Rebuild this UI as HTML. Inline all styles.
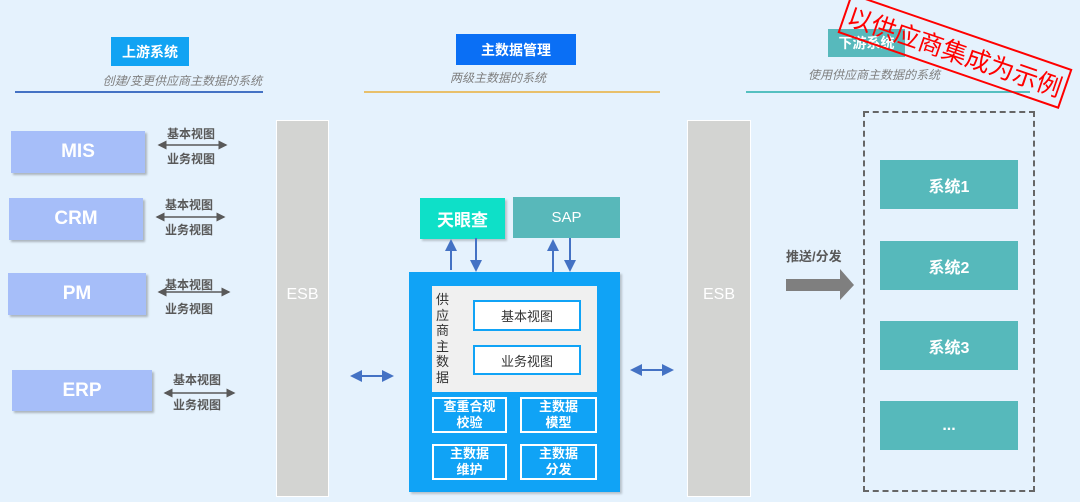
<!DOCTYPE html>
<html><head><meta charset="utf-8"><style>
*{margin:0;padding:0;box-sizing:border-box}
body{width:1080px;height:502px;background:#e5f2fd;position:relative;overflow:hidden;font-family:"Liberation Sans","Noto Sans CJK SC",sans-serif}
.a{position:absolute}
.c{display:flex;align-items:center;justify-content:center;text-align:center}
.hd{color:#fff;font-weight:bold;font-size:14px}
.sub{color:#7f7f7f;font-style:italic;font-size:12px}
.lb{background:#a6bef9;color:#fff;font-weight:bold;font-size:19px;box-shadow:2px 2px 2px rgba(0,0,0,.25)}
.vl{color:#595959;font-weight:bold;font-size:12px}
.esb{background:#d3d4d2;border:1px solid #fff;color:#fff;font-size:16px}
.btn{border:2px solid #fff;color:#fff;font-weight:bold;font-size:13px;line-height:16px}
.sys{background:#56b9bb;color:#fff;font-weight:bold;font-size:16px}
.vw{background:#fff;border:2px solid #10a3f6;color:#333;font-size:13px}
</style></head><body>
<div class="a c hd" style="left:111px;top:37px;width:78px;height:29px;background:#11a3f3">上游系统</div>
<div class="a sub" style="left:98px;top:72px;width:164px;text-align:right">创建/变更供应商主数据的系统</div>
<div class="a" style="left:15px;top:91px;width:248px;height:2px;background:#4472c4"></div>
<div class="a c hd" style="left:456px;top:34px;width:120px;height:31px;background:#0a6ff5">主数据管理</div>
<div class="a sub" style="left:450px;top:69px;width:125px">两级主数据的系统</div>
<div class="a" style="left:364px;top:91px;width:296px;height:2px;background:#e8c06b"></div>
<div class="a c hd" style="left:828px;top:29px;width:77px;height:28px;background:#57b9bc">下游系统</div>
<div class="a sub" style="left:808px;top:66px;width:150px">使用供应商主数据的系统</div>
<div class="a" style="left:746px;top:91px;width:284px;height:2px;background:#55c0c0"></div>
<div class="a c" style="left:838px;top:30px;width:234px;height:42px;border:2px solid #f00;color:#f00;font-size:25px;white-space:nowrap;transform:rotate(19deg);transform-origin:center">以供应商集成为示例</div>

<div class="a c lb" style="left:11px;top:131px;width:134px;height:42px">MIS</div>
<div class="a c lb" style="left:9px;top:198px;width:134px;height:42px">CRM</div>
<div class="a c lb" style="left:8px;top:273px;width:138px;height:42px">PM</div>
<div class="a c lb" style="left:12px;top:370px;width:140px;height:41px">ERP</div>
<div class="a vl" style="left:167px;top:125px">基本视图</div><div class="a vl" style="left:167px;top:150px">业务视图</div>
<div class="a vl" style="left:165px;top:196px">基本视图</div><div class="a vl" style="left:165px;top:221px">业务视图</div>
<div class="a vl" style="left:165px;top:276px">基本视图</div><div class="a vl" style="left:165px;top:300px">业务视图</div>
<div class="a vl" style="left:173px;top:371px">基本视图</div><div class="a vl" style="left:173px;top:396px">业务视图</div>

<div class="a esb" style="left:276px;top:120px;width:53px;height:377px"></div>
<div class="a esb" style="left:276px;top:286px;width:53px;text-align:center;border:none;background:none">ESB</div>
<div class="a esb" style="left:687px;top:120px;width:64px;height:377px"></div>
<div class="a esb" style="left:687px;top:286px;width:64px;text-align:center;border:none;background:none">ESB</div>

<div class="a c" style="left:420px;top:198px;width:85px;height:41px;background:#0ee0c8;color:#fff;font-weight:bold;font-size:17px;box-shadow:2px 2px 2px rgba(0,0,0,.2)">天眼查</div>
<div class="a c" style="left:513px;top:197px;width:107px;height:41px;background:#58b8ba;color:#fff;font-size:15px">SAP</div>

<div class="a" style="left:409px;top:272px;width:211px;height:220px;background:#10a3f6;box-shadow:2px 2px 2px rgba(0,0,0,.2)"></div>
<div class="a" style="left:432px;top:286px;width:165px;height:106px;background:#f0f0f0"></div>
<div class="a" style="left:436px;top:292px;width:14px;font-size:13px;line-height:15.5px;color:#333">供应商主数据</div>
<div class="a c vw" style="left:473px;top:300px;width:108px;height:31px">基本视图</div>
<div class="a c vw" style="left:473px;top:345px;width:108px;height:30px">业务视图</div>
<div class="a c btn" style="left:432px;top:397px;width:75px;height:36px">查重合规<br>校验</div>
<div class="a c btn" style="left:520px;top:397px;width:77px;height:36px">主数据<br>模型</div>
<div class="a c btn" style="left:432px;top:444px;width:75px;height:36px">主数据<br>维护</div>
<div class="a c btn" style="left:520px;top:444px;width:77px;height:36px">主数据<br>分发</div>

<div class="a vl" style="left:786px;top:246px;font-size:13px">推送/分发</div>
<div class="a" style="left:863px;top:111px;width:172px;height:381px;border:2px dashed #666"></div>
<div class="a c sys" style="left:880px;top:160px;width:138px;height:49px">系统1</div>
<div class="a c sys" style="left:880px;top:241px;width:138px;height:49px">系统2</div>
<div class="a c sys" style="left:880px;top:321px;width:138px;height:49px">系统3</div>
<div class="a c sys" style="left:880px;top:401px;width:138px;height:49px">...</div>

<svg class="a" style="left:0;top:0" width="1080" height="502">
<defs>
<marker id="g" markerWidth="6" markerHeight="6" refX="5" refY="3" orient="auto-start-reverse"><path d="M0,0L6,3L0,6z" fill="#595959"/></marker>
<marker id="b" markerWidth="6" markerHeight="6" refX="5" refY="3" orient="auto-start-reverse"><path d="M0,0L6,3L0,6z" fill="#4472c4"/></marker>
</defs>
<g stroke="#595959" stroke-width="1.5" marker-start="url(#g)" marker-end="url(#g)">
<line x1="159" y1="145" x2="226" y2="145"/>
<line x1="157" y1="217" x2="224" y2="217"/>
<line x1="159" y1="292" x2="229" y2="292"/>
<line x1="165" y1="393" x2="234" y2="393"/>
</g>
<g stroke="#4472c4" stroke-width="2">
<line x1="352" y1="376" x2="392" y2="376" marker-start="url(#b)" marker-end="url(#b)"/>
<line x1="632" y1="370" x2="672" y2="370" marker-start="url(#b)" marker-end="url(#b)"/>
<line x1="451" y1="270" x2="451" y2="241" marker-end="url(#b)"/>
<line x1="476" y1="238" x2="476" y2="270" marker-end="url(#b)"/>
<line x1="553" y1="272" x2="553" y2="241" marker-end="url(#b)"/>
<line x1="570" y1="238" x2="570" y2="270" marker-end="url(#b)"/>
</g>
<path d="M786,279H840V269L854,285L840,300V291H786Z" fill="#7f7f7f"/>
</svg>
</body></html>
